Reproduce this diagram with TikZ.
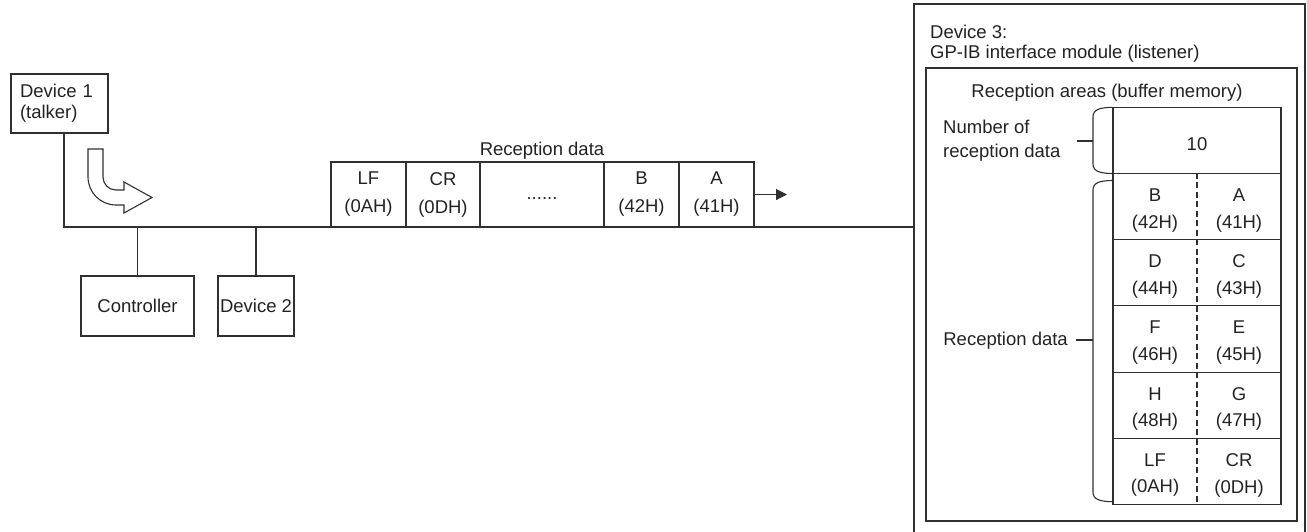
\documentclass[tikz,border=0pt]{standalone}
\usepackage{fontspec}
\setmainfont{Liberation Sans}
\usetikzlibrary{arrows.meta}
\definecolor{lc}{HTML}{303030}
\definecolor{tc}{HTML}{222222}
\begin{document}
\begin{tikzpicture}[x=1pt,y=-1pt,
  lines/.style={font=\fontsize{18.5}{#1}\selectfont},
  lines/.default=21,
  base/.style={lines, text=tc, inner sep=0pt},
  box/.style={base, draw=lc, line width=1.1pt},
  cell/.style={box, align=center, lines=28, minimum height=65pt},
  tcell/.style={box, minimum width=168pt, minimum height=66.2pt},
  ctext/.style={base, align=center, lines=26.7},
  conn/.style={draw=lc, line width=1.1pt},
  divider/.style={draw=lc, line width=1.3pt, dash pattern=on 6pt off 3.5pt},
  brace/.style={draw=lc, line width=1.1pt}
]
\useasboundingbox (0,0) rectangle (1307,531);

% ---- left side: devices on the bus
\node[box, minimum width=97pt, minimum height=59pt, text width=79pt,
      inner xsep=9pt, align=left] (dev1) at (59.5,103.5) {Device 1\\(talker)};
\node[box, minimum width=113pt, minimum height=60pt] (ctrl) at (137.5,306) {Controller};
\node[box, minimum width=76pt, minimum height=60pt] (dev2) at (256,306) {Device 2};

% ---- device 3 frame (runs past the bottom edge)
\node[box, minimum width=391pt, minimum height=556pt] (dev3) at (1109.5,282) {};
\node[base, lines=20, align=left, anchor=west] (dev3lbl) at (930,43.4)
  {Device 3:\\GP-IB interface module (listener)};
\node[box, minimum width=371pt, minimum height=453pt] (buf) at (1111.5,294.5) {};
\node[base, anchor=base] (buflbl) at (1107,97) {Reception areas (buffer memory)};

% ---- bus
\coordinate (busL) at (64,227);
\draw[conn] (dev1.south -| busL) -- (busL) -- (dev3.west |- busL);
\draw[conn] (ctrl.north) -- (ctrl.north |- busL);
\draw[conn] (dev2.north) -- (dev2.north |- busL);

% ---- hollow bent arrow
\draw[conn, fill=white] (88,149) -- (88,177)
  .. controls (88,192.5) and (100.5,205) .. (116,205)
  -- (124,205) -- (124,213) -- (152,197.5) -- (124,182) -- (124,190) -- (116,190)
  .. controls (108.8,190) and (103,184.2) .. (103,177)
  -- (103,149) -- cycle;

% ---- reception data on the bus
\node[base, anchor=base] (striplbl) at (542,155) {Reception data};
\node[cell, minimum width=75pt] (s1) at (368.5,194.5) {LF\\(0AH)};
\node[cell, minimum width=74pt] (s2) at (443,194.5) {CR\\(0DH)};
\node[cell, minimum width=124pt] (s3) at (542,194.5) {\vphantom{(}......};
\node[cell, minimum width=75pt] (s4) at (641.5,194.5) {B\\(42H)};
\node[cell, minimum width=75pt] (s5) at (716.5,194.5) {A\\(41H)};
\coordinate (sa) at (787,194.5);
\draw[conn, -{Triangle[length=11pt,width=11pt]}] (s5.east) -- (sa);

% ---- buffer table
\node[tcell, text height=24pt, text depth=3.5pt] (n10) at (1197,140.4) {10};
\foreach \i/\l/\lc/\r/\rc in {1/B/42H/A/41H, 2/D/44H/C/43H, 3/F/46H/E/45H,
                              4/H/48H/G/47H, 5/LF/0AH/CR/0DH} {
  \node[tcell] (r\i) at (1197,{206.6+66.2*(\i-1)}) {};
  \node[ctext] (l\i) at (1155,{210.3+66.2*(\i-1)}) {\l\\(\lc)};
  \node[ctext] (q\i) at (1239,{210.3+66.2*(\i-1)}) {\r\\(\rc)};
}
\draw[divider] (r1.north) -- (r5.south);

% ---- braces and their labels
\node[base, lines=24, align=left, anchor=west] (numlbl) at (943,140.6)
  {Number of\\reception data};
\node[base, anchor=base east] (reclbl) at (1068,345) {Reception data};

\coordinate (b1t) at (1112,107.3);
\coordinate (b1b) at (1112,173.5);
\coordinate (b1m) at (1093,141);
\coordinate (b1k) at (1077,141);
\draw[brace] (b1t) .. controls (1099,107.5) and (1093,110) .. (1093,117)
  -- (1093,163.8) .. controls (1093,171) and (1099,173.3) .. (b1b);
\draw[brace] (b1m) -- (b1k);

\coordinate (b2t) at (1112,180.5);
\coordinate (b2b) at (1112,501.7);
\coordinate (b2m) at (1093,340);
\coordinate (b2k) at (1076,340);
\draw[brace] (b2t) .. controls (1099,180.7) and (1093,183) .. (1093,190)
  -- (1093,492) .. controls (1093,499) and (1099,501.5) .. (b2b);
\draw[brace] (b2m) -- (b2k);
\end{tikzpicture}
\end{document}
